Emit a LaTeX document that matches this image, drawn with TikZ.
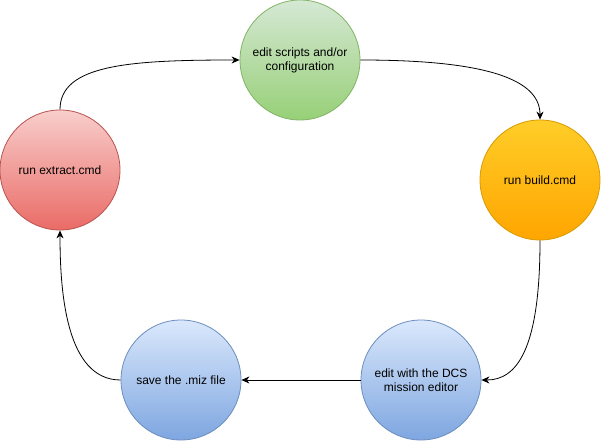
\documentclass[tikz,border=0pt]{standalone}
\usepackage{fontspec}
\setmainfont{Liberation Sans}
\usetikzlibrary{arrows.meta}
\definecolor{gtop}{HTML}{D5E8D4}\definecolor{gbot}{HTML}{97D077}\definecolor{gstr}{HTML}{82B366}
\definecolor{rtop}{HTML}{F8CECC}\definecolor{rbot}{HTML}{EA6B66}\definecolor{rstr}{HTML}{B85450}
\definecolor{otop}{HTML}{FFCD28}\definecolor{obot}{HTML}{FFA500}\definecolor{ostr}{HTML}{D79B00}
\definecolor{btop}{HTML}{DAE8FC}\definecolor{bbot}{HTML}{7EA6E0}\definecolor{bstr}{HTML}{6C8EBF}
\tikzset{
  stepnode/.style={circle, minimum size=120pt, inner sep=0pt, align=center, font=\fontsize{12}{14}\selectfont, line width=0.8pt},
  greennode/.style={stepnode, draw=gstr, top color=gtop, bottom color=gbot},
  rednode/.style={stepnode, draw=rstr, top color=rtop, bottom color=rbot},
  orangenode/.style={stepnode, draw=ostr, top color=otop, bottom color=obot},
  bluenode/.style={stepnode, draw=bstr, top color=btop, bottom color=bbot},
  conn/.style={line width=0.8pt, -{Stealth[length=8pt,width=7pt,inset=2.5pt]}}
}
\begin{document}
\begin{tikzpicture}[x=1pt,y=-1pt]
\useasboundingbox (0,0) rectangle (601,441);
\node[greennode] (edit) at (300,60) {edit scripts and/or\\configuration};
\node[rednode] (extract) at (60,170) {run extract.cmd};
\node[orangenode] (build) at (540,180) {run build.cmd};
\node[bluenode] (dcs) at (421,380) {edit with the DCS\\mission editor};
\node[bluenode] (save) at (181,380) {save the .miz file};
\draw[conn] (extract.north) .. controls +(0,-45) and +(-110,0) .. (edit.west);
\draw[conn] (edit.east) .. controls +(110,0) and +(0,-45) .. (build.north);
\draw[conn] (build.south) .. controls +(0,110) and +(35,0) .. (dcs.east);
\draw[conn] (dcs.west) -- (save.east);
\draw[conn] (save.west) .. controls +(-55,0) and +(0,60) .. (extract.south);
\end{tikzpicture}
\end{document}
